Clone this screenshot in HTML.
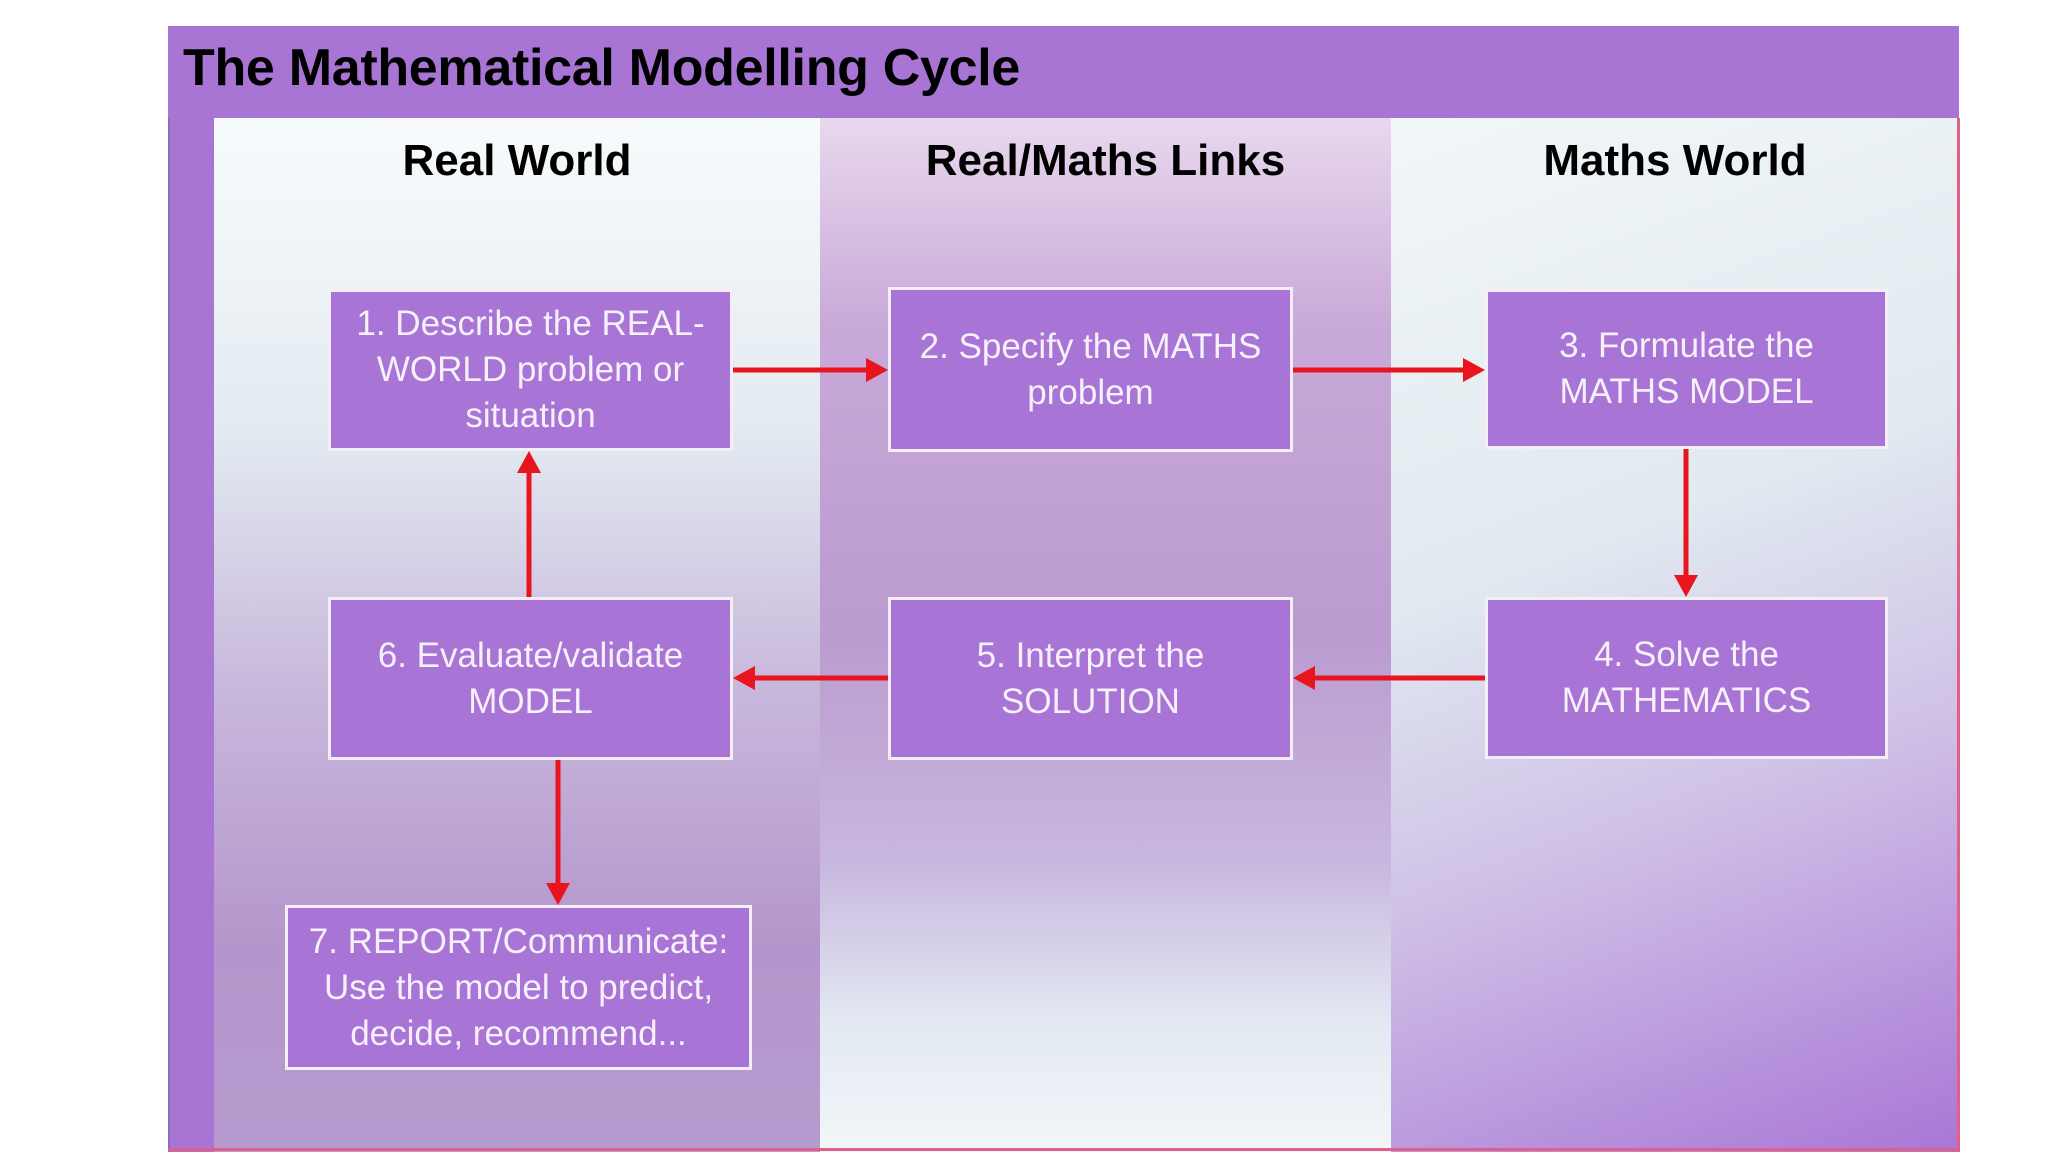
<!DOCTYPE html>
<html><head><meta charset="utf-8"><style>
body{margin:0;width:2048px;height:1152px;background:#fff;position:relative;overflow:hidden;font-family:"Liberation Sans",sans-serif}
.abs{position:absolute}
.hdr{left:168px;top:26px;width:1791px;height:92px;background:#a975d5}
.title{left:183px;top:38px;font-size:52px;font-weight:bold;color:#000;letter-spacing:-0.3px}
.strip{left:168px;top:118px;width:46px;height:1034px;background:#a875d4;border-left:2px solid #8a70b8;box-sizing:border-box}
.c1{left:214px;top:118px;width:606px;height:1034px;background:linear-gradient(#f8fbfc 0%,#e3ebf1 30%,#c8b8dc 55%,#b596cc 80%,#b69bcf 100%)}
.c2{left:820px;top:118px;width:571px;height:1034px;background:linear-gradient(#e8d8ee 0%,#c9a9d8 20%,#bb9bd0 50%,#c7b7df 72%,#e4eaf2 88%,#f2f6f9 100%)}
.c3{left:1391px;top:118px;width:568px;height:1034px;background:linear-gradient(160deg,#f2f6f8 0%,#e0eaf0 40%,#cfc0e6 65%,#a977d6 100%)}
.rb{left:1957px;top:118px;width:3px;height:1034px;background:#e0608a}
.bb{left:168px;top:1148px;width:1792px;height:3px;background:#e0608a}
.ch{font-size:44px;font-weight:bold;color:#000;text-align:center;top:136px}
.box{background:#a874d6;border:3px solid #f4eef8;box-sizing:border-box;color:#f6f0fa;font-size:35px;line-height:46px;text-align:center;display:flex;align-items:center;justify-content:center}
</style></head><body>
<div class="abs hdr"></div>
<div class="abs title">The Mathematical Modelling Cycle</div>
<div class="abs c1"></div><div class="abs c2"></div><div class="abs c3"></div>
<div class="abs strip"></div>
<div class="abs rb"></div><div class="abs bb"></div>
<div class="abs ch" style="left:214px;width:606px;">Real World</div>
<div class="abs ch" style="left:820px;width:571px;">Real/Maths Links</div>
<div class="abs ch" style="left:1391px;width:568px;">Maths World</div>

<div class="abs box" style="left:328px;top:289px;width:405px;height:162px">1. Describe the REAL-<br>WORLD problem or<br>situation</div>
<div class="abs box" style="left:888px;top:287px;width:405px;height:165px">2. Specify the MATHS<br>problem</div>
<div class="abs box" style="left:1485px;top:289px;width:403px;height:160px">3. Formulate the<br>MATHS MODEL</div>
<div class="abs box" style="left:1485px;top:597px;width:403px;height:162px">4. Solve the<br>MATHEMATICS</div>
<div class="abs box" style="left:888px;top:597px;width:405px;height:163px">5. Interpret the<br>SOLUTION</div>
<div class="abs box" style="left:328px;top:597px;width:405px;height:163px">6. Evaluate/validate<br>MODEL</div>
<div class="abs box" style="left:285px;top:905px;width:467px;height:165px">7. REPORT/Communicate:<br>Use the model to predict,<br>decide, recommend...</div>

<svg class="abs" style="left:0;top:0" width="2048" height="1152">
<g stroke="#e8141e" stroke-width="5" fill="none">
<line x1="733" y1="370" x2="870" y2="370"/>
<line x1="1293" y1="370" x2="1466" y2="370"/>
<line x1="1686" y1="449" x2="1686" y2="578"/>
<line x1="1485" y1="678" x2="1312" y2="678"/>
<line x1="888" y1="678" x2="752" y2="678"/>
<line x1="529" y1="597" x2="529" y2="470"/>
<line x1="558" y1="760" x2="558" y2="886"/>
</g>
<g fill="#e8141e">
<polygon points="888,370 866,358 866,382"/>
<polygon points="1485,370 1463,358 1463,382"/>
<polygon points="1686,597 1674,575 1698,575"/>
<polygon points="1293,678 1315,666 1315,690"/>
<polygon points="733,678 755,666 755,690"/>
<polygon points="529,451 517,473 541,473"/>
<polygon points="558,905 546,883 570,883"/>
</g>
</svg>
</body></html>
